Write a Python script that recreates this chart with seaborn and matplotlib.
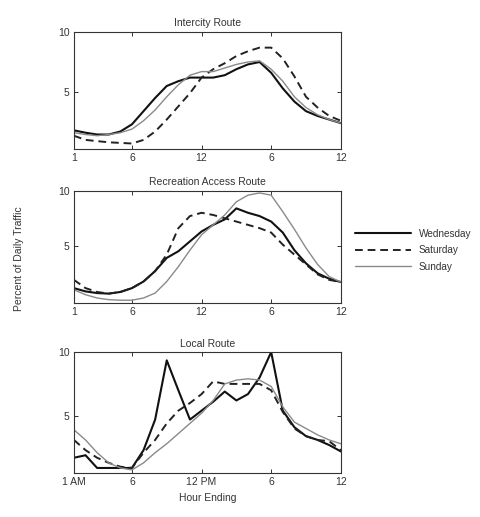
import numpy as np
import pandas as pd
import matplotlib
matplotlib.use("Agg")
import matplotlib.pyplot as plt
import seaborn as sns

hours = list(range(1, 25))
tick_pos = [1, 6, 12, 18, 24]
tick_labels_top = ["1", "6", "12", "6", "12"]
tick_labels_bottom = ["1 AM", "6", "12 PM", "6", "12"]
days = ["Wednesday", "Saturday", "Sunday"]
titles = ["Intercity Route", "Recreation Access Route", "Local Route"]

intercity_wed = [1.8, 1.6, 1.45, 1.45, 1.7, 2.3, 3.4, 4.5, 5.5, 5.9, 6.2, 6.2, 6.2, 6.4, 6.9, 7.3, 7.5, 6.6, 5.3, 4.2, 3.4, 3.0, 2.7, 2.4]
intercity_sat = [1.35, 1.0, 0.9, 0.8, 0.75, 0.7, 1.0, 1.7, 2.7, 3.8, 4.9, 6.2, 6.9, 7.4, 8.0, 8.4, 8.7, 8.7, 7.8, 6.3, 4.6, 3.7, 3.0, 2.6]
intercity_sun = [1.6, 1.45, 1.35, 1.45, 1.6, 1.9, 2.6, 3.5, 4.6, 5.6, 6.4, 6.7, 6.7, 7.0, 7.3, 7.5, 7.6, 6.9, 5.9, 4.6, 3.7, 3.1, 2.7, 2.4]

recreation_wed = [1.15, 0.85, 0.7, 0.65, 0.8, 1.15, 1.75, 2.7, 3.9, 4.5, 5.4, 6.3, 6.9, 7.4, 8.4, 8.0, 7.7, 7.2, 6.2, 4.6, 3.4, 2.5, 2.0, 1.7]
recreation_sat = [1.9, 1.15, 0.8, 0.65, 0.8, 1.15, 1.75, 2.7, 4.2, 6.6, 7.7, 8.0, 7.8, 7.5, 7.2, 6.9, 6.6, 6.2, 5.1, 4.2, 3.3, 2.4, 1.9, 1.7]
recreation_sun = [1.0, 0.55, 0.25, 0.1, 0.05, 0.05, 0.25, 0.7, 1.75, 3.1, 4.6, 6.0, 6.9, 7.8, 9.0, 9.6, 9.8, 9.6, 8.1, 6.5, 4.8, 3.3, 2.2, 1.7]

local_wed = [1.7, 1.9, 0.9, 0.9, 0.9, 0.9, 2.3, 4.7, 9.35, 7.0, 4.7, 5.4, 6.1, 6.9, 6.2, 6.7, 8.0, 10.0, 5.4, 4.1, 3.4, 3.1, 2.7, 2.2]
local_sat = [3.1, 2.3, 1.7, 1.3, 1.0, 0.9, 2.1, 3.1, 4.4, 5.4, 6.0, 6.7, 7.7, 7.5, 7.5, 7.5, 7.5, 7.0, 5.3, 4.0, 3.4, 3.1, 3.0, 2.3]
local_sun = [3.9, 3.1, 2.1, 1.3, 0.9, 0.75, 1.3, 2.1, 2.8, 3.6, 4.4, 5.2, 6.2, 7.5, 7.8, 7.9, 7.8, 7.3, 5.7, 4.5, 4.0, 3.5, 3.1, 2.8]

panels = [
    (intercity_wed, intercity_sat, intercity_sun),
    (recreation_wed, recreation_sat, recreation_sun),
    (local_wed, local_sat, local_sun),
]

sns.set_theme(style="white")
plt.rcParams["font.family"] = ["Liberation Sans Narrow", "Liberation Sans", "DejaVu Sans"]

fig = plt.figure(figsize=(4.8, 5.17), dpi=100)
rects = [
    [0.154, 0.712, 0.556, 0.226],
    [0.154, 0.414, 0.556, 0.217],
    [0.154, 0.085, 0.556, 0.234],
]
ylims = [(0.25, 10), (-0.2, 10), (0.5, 10)]

palette = {"Wednesday": "#111111", "Saturday": "#222222", "Sunday": "#8a8a8a"}
dashes = {"Wednesday": "", "Saturday": (4, 2.5), "Sunday": ""}
sizes = {"Wednesday": 1.5, "Saturday": 1.4, "Sunday": 1.0}

for i, (rect, series) in enumerate(zip(rects, panels)):
    ax = fig.add_axes(rect)
    df = pd.DataFrame({
        "hour": hours * 3,
        "value": list(series[0]) + list(series[1]) + list(series[2]),
        "day": [d for d in days for _ in hours],
    })
    sns.lineplot(data=df, x="hour", y="value", hue="day", style="day",
                 size="day", sizes=sizes, palette=palette, dashes=dashes,
                 hue_order=days, style_order=days, size_order=days,
                 ax=ax, legend=(i == 1))
    ax.set_xlim(1, 24)
    ax.set_ylim(*ylims[i])
    ax.set_xticks(tick_pos)
    ax.set_xticklabels(tick_labels_bottom if i == 2 else tick_labels_top)
    ax.set_yticks([5, 10])
    ax.set_yticklabels(["5", "10"])
    ax.tick_params(direction="in", length=3, width=0.7, labelsize=7.5,
                   top=True, right=True, bottom=True, left=True, pad=3,
                   colors="#333333")
    for s in ax.spines.values():
        s.set_linewidth(0.8)
        s.set_color("#333333")
    ax.set_title(titles[i], fontsize=7.5, pad=4, color="#333333")
    ax.set_xlabel("")
    ax.set_ylabel("")
    if i == 1:
        handles, labels = ax.get_legend_handles_labels()
        ax.get_legend().remove()
        fig.legend(handles, labels, loc="center left",
                   bbox_to_anchor=(0.72, 0.516), frameon=False,
                   fontsize=7.2, handlelength=5.6, handletextpad=0.8,
                   labelspacing=0.65, labelcolor="#333333")
    if i == 2:
        ax.set_xlabel("Hour Ending", fontsize=7.5, color="#333333", labelpad=4)

fig.text(0.04, 0.5, "Percent of Daily Traffic", rotation=90, fontsize=7.5,
         color="#333333", ha="center", va="center")

fig.savefig("out.png", dpi=100, facecolor="white")
